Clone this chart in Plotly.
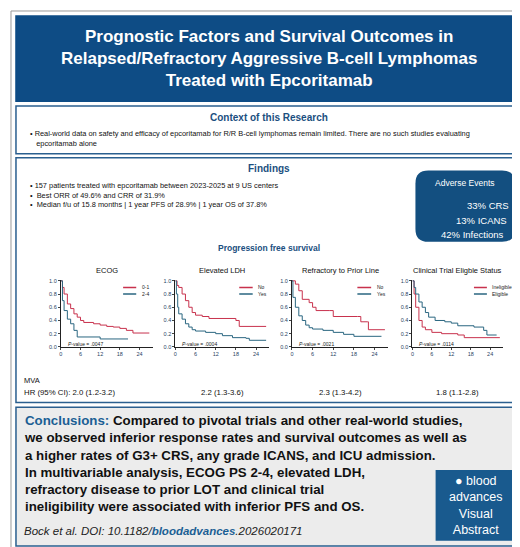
import plotly.graph_objects as go

W, H = 520, 547
BLUE = "#0e4c85"
RED = "#c8324d"
TEAL = "#2a6680"

panel_titles = ["ECOG", "Elevated LDH", "Refractory to Prior Line", "Clinical Trial Eligble Status"]
legend_labels = [["0-1", "2-4"], ["No", "Yes"], ["No", "Yes"], ["Ineligible", "Eligible"]]
p_values = [".0047", ".0004", ".0021", ".0114"]
hr_text = ["HR (95% CI): 2.0 (1.2-3.2)", "2.2 (1.3-3.6)", "2.3 (1.3-4.2)", "1.8 (1.1-2.8)"]
x_ticks = [0, 6, 12, 18, 24]
y_ticks = [0.0, 0.2, 0.4, 0.6, 0.8, 1.0]

# (time, survival) for red and teal curves of each panel
ecog_a_t = [0, 0.5, 1, 2, 3, 4, 5, 6, 7, 10, 12, 14, 16, 18, 20, 22, 27]
ecog_a_s = [1, 0.9, 0.8, 0.65, 0.58, 0.5, 0.45, 0.4, 0.37, 0.35, 0.33, 0.31, 0.3, 0.28, 0.25, 0.21, 0.21]
ecog_b_t = [0, 0.5, 1, 2, 3, 4, 5, 12, 20.5]
ecog_b_s = [1, 0.7, 0.55, 0.42, 0.35, 0.25, 0.15, 0.12, 0.12]
ldh_a_t = [0, 0.5, 1, 2, 3, 4, 5, 6, 8, 10, 18, 19, 27]
ldh_a_s = [1, 0.93, 0.9, 0.8, 0.7, 0.6, 0.52, 0.48, 0.46, 0.43, 0.4, 0.31, 0.31]
ldh_b_t = [0, 0.3, 0.7, 1, 2, 3, 4, 5, 6, 9, 12, 14, 17, 21, 22, 27]
ldh_b_s = [1, 0.8, 0.6, 0.5, 0.42, 0.35, 0.3, 0.26, 0.24, 0.22, 0.2, 0.17, 0.14, 0.13, 0.1, 0.1]
ref_a_t = [0, 1, 2, 3, 5, 6, 7, 11, 12, 19, 20, 22, 22.2, 27]
ref_a_s = [1, 0.95, 0.85, 0.72, 0.67, 0.6, 0.55, 0.55, 0.46, 0.46, 0.38, 0.38, 0.26, 0.26]
ref_b_t = [0, 0.3, 1, 2, 3, 4, 5, 6, 9, 12, 15, 18, 26]
ref_b_s = [1, 0.75, 0.6, 0.47, 0.4, 0.33, 0.29, 0.27, 0.25, 0.22, 0.19, 0.16, 0.16]
ct_a_t = [0, 0.5, 1, 2, 3, 4, 6, 9, 14, 16, 27]
ct_a_s = [1, 0.8, 0.6, 0.4, 0.3, 0.26, 0.22, 0.2, 0.18, 0.14, 0.14]
ct_b_t = [0, 0.5, 1, 2, 3, 4, 5, 7, 10, 12, 14, 19, 22, 23, 26]
ct_b_s = [1, 0.9, 0.8, 0.68, 0.6, 0.52, 0.45, 0.4, 0.38, 0.36, 0.32, 0.3, 0.25, 0.18, 0.18]

curves = [((ecog_a_t, ecog_a_s), (ecog_b_t, ecog_b_s)),
          ((ldh_a_t, ldh_a_s), (ldh_b_t, ldh_b_s)),
          ((ref_a_t, ref_a_s), (ref_b_t, ref_b_s)),
          ((ct_a_t, ct_a_s), (ct_b_t, ct_b_s))]

def px(x):
    return x / W

def py(y):
    return 1 - y / H

fig = go.Figure()
shapes = []
ann = []

def box(x0, y0, x1, y1, fill, line=None, lw=1.5):
    shapes.append(dict(type="rect", xref="paper", yref="paper", x0=px(x0), x1=px(x1),
                       y0=py(y1), y1=py(y0), fillcolor=fill,
                       line=dict(color=line or fill, width=lw), layer="below"))

def text(x, y, s, size, color="#111", anchor="center", bold=False, italic=False):
    if bold:
        s = "<b>" + s + "</b>"
    if italic:
        s = "<i>" + s + "</i>"
    ann.append(dict(xref="paper", yref="paper", x=px(x), y=py(y), text=s, showarrow=False,
                    xanchor=anchor, yanchor="middle", align="left" if anchor == "left" else "center",
                    font=dict(size=size, color=color, family="Liberation Sans, Arial")))

box(1, 1, 519, 546, "white", "#9a9a9a", 1)
box(6, 6, 513, 92, BLUE)
text(260, 49, "Prognostic Factors and Survival Outcomes in<br>Relapsed/Refractory Aggressive B-cell Lymphomas<br>Treated with Epcoritamab",
     17, "white", bold=True)
box(6, 97, 513, 145, "white", "#2a5f8f")
text(260, 108, "Context of this Research", 10, "#1b4f80", bold=True)
text(18, 130, "• Real-world data on safety and efficacy of epcoritamab for R/R B-cell lymphomas remain limited. There are no such studies evaluating<br>   epcoritamab alone", 7.4, anchor="left")
box(6, 149, 513, 396, "white", "#2a5f8f")
text(260, 160, "Findings", 10, "#1b4f80", bold=True)
text(18, 187, "• 157 patients treated with epcoritamab between 2023-2025 at 9 US centers<br>•  Best ORR of 49.6% and CRR of 31.9%<br>•  Median f/u of 15.8 months | 1 year PFS of 28.9% | 1 year OS of 37.8%", 7.4, anchor="left")
shapes.append(dict(type="path", xref="paper", yref="paper",
                   path="M %f %f L %f %f Q %f %f %f %f L %f %f Q %f %f %f %f L %f %f Q %f %f %f %f L %f %f Q %f %f %f %f Z" % (
                       px(420), py(162), px(494), py(162), px(507), py(162), px(507), py(175),
                       px(507), py(221), px(507), py(234), px(494), py(234),
                       px(420), py(234), px(407), py(234), px(407), py(221),
                       px(407), py(175), px(407), py(162), px(420), py(162)),
                   fillcolor="#134f80", line=dict(width=0)))
text(457, 175, "Adverse Events", 8.5, "white")
text(503, 197, "33% CRS", 9.5, "white", anchor="right")
text(501, 212, "13% ICANS", 9.5, "white", anchor="right")
text(498, 227, "42% Infections", 9.5, "white", anchor="right")
text(260, 240, "Progression free survival", 8.5, "#1b4f80", bold=True)
text(12, 374, "MVA", 7.5, anchor="left")

box(6, 401, 513, 541, "#ececec", "#2a5f8f")
text(12, 458, "<span style='color:#1b5f94'>Conclusions:</span> Compared to pivotal trials and other real-world studies,<br>we observed inferior response rates and survival outcomes as well as<br>a higher rates of G3+ CRS, any grade ICANS, and ICU admission.<br>In multivariable analysis, ECOG PS 2-4, elevated LDH,<br>refractory disease to prior LOT and clinical trial<br>ineligibility were associated with inferior PFS and OS.",
     13.3, anchor="left", bold=True)
text(12, 526, "<i>Bock et al. DOI: 10.1182/<b><span style='color:#1b5f94'>bloodadvances</span></b>.2026020171</i>", 11.5, "#222", anchor="left")
box(428, 465, 507, 535, "#195a8e")
text(468, 500, "● blood<br>advances<br>Visual<br>Abstract", 12.5, "white")

x_zero = [51, 166, 283, 404]
x_24 = [130, 247, 366, 482]
hr_x = [12, 188, 308, 428]
for i in range(4):
    n = i + 1
    x0 = x_zero[i]
    x1 = x0 + (x_24[i] - x0) * 28 / 24
    xa = "xaxis" if n == 1 else "xaxis%d" % n
    ya = "yaxis" if n == 1 else "yaxis%d" % n
    fig.layout[xa] = dict(domain=[px(x0), px(x1)], range=[0, 28], tickvals=x_ticks,
                          showgrid=False, zeroline=False, showline=True, linecolor="#222",
                          linewidth=1, ticks="outside", ticklen=2, tickfont=dict(size=5.5),
                          anchor="y" if n == 1 else "y%d" % n)
    fig.layout[ya] = dict(domain=[py(340), py(272)], range=[0, 1.02], tickvals=y_ticks,
                          tickformat=".1f", showgrid=False, zeroline=False, showline=True,
                          linecolor="#222", linewidth=1, ticks="outside", ticklen=2,
                          tickfont=dict(size=5.5), anchor="x" if n == 1 else "x%d" % n)
    xr = "x" if n == 1 else "x%d" % n
    yr = "y" if n == 1 else "y%d" % n
    for (t, s), c in zip(curves[i], [RED, TEAL]):
        fig.add_trace(go.Scatter(x=t, y=s, mode="lines", line=dict(color=c, width=1, shape="hv"),
                                 xaxis=xr, yaxis=yr, showlegend=False))
    for k, c in enumerate([RED, TEAL]):
        yy = 0.9 - 0.1 * k
        shapes.append(dict(type="line", xref=xr, yref=yr, x0=19, x1=23, y0=yy, y1=yy,
                           line=dict(color=c, width=1.5)))
        ann.append(dict(xref=xr, yref=yr, x=24, y=yy, text=legend_labels[i][k], showarrow=False,
                        xanchor="left", font=dict(size=5, color="#222")))
    ann.append(dict(xref=xr, yref=yr, x=1.5, y=0.05, text="<i>P</i>-value = " + p_values[i],
                    showarrow=False, xanchor="left", font=dict(size=5, color="#222")))
    text((x0 + x1) / 2, 263, panel_titles[i], 7.5)
    if i == 0:
        text(hr_x[i], 386, hr_text[i], 7.8, anchor="left")
    else:
        text((x0 + x1) / 2, 386, hr_text[i], 7.8)

fig.update_layout(width=W, height=H, margin=dict(l=0, r=0, t=0, b=0),
                  paper_bgcolor="white", plot_bgcolor="rgba(0,0,0,0)",
                  shapes=shapes, annotations=ann, font=dict(family="Liberation Sans, Arial"))
fig.write_html("out.html")
